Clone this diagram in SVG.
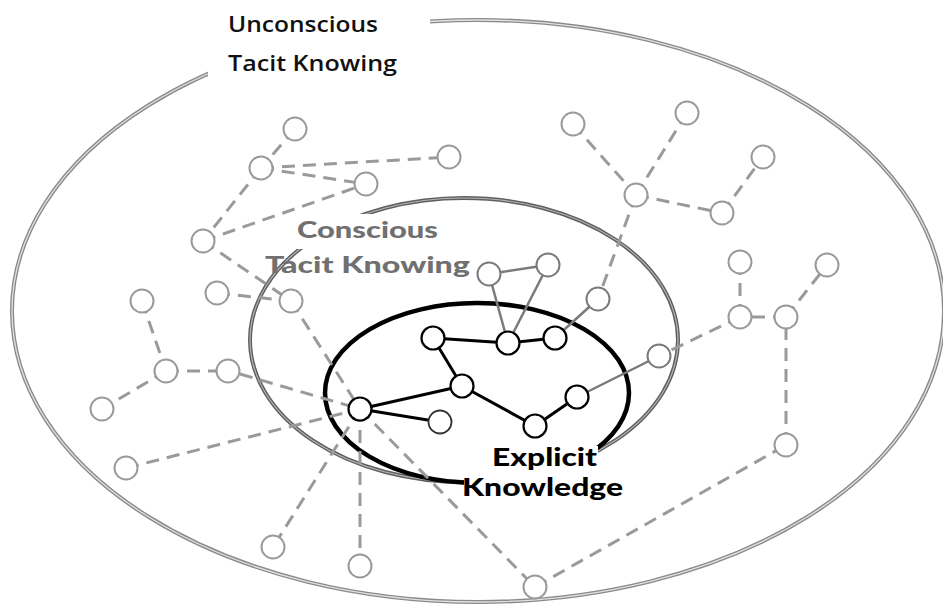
<svg xmlns="http://www.w3.org/2000/svg" width="943" height="605" viewBox="0 0 943 605">
<style>
.dash{stroke:#9a9a9a;stroke-width:3;stroke-dasharray:13 8;fill:none}
.gsolid{stroke:#7a7a7a;stroke-width:2.5;fill:none}
.bsolid{stroke:#000;stroke-width:3;fill:none}
.gn{fill:#fff;stroke:#9a9a9a;stroke-width:2}
.mn{fill:#fff;stroke:#7a7a7a;stroke-width:2}
.bn{fill:#fff;stroke:#000;stroke-width:2.2}
.lbl1{font-family:"Open Sans","Liberation Sans",sans-serif;font-weight:600;font-size:22px;fill:#111}
.lbl2{font-family:Lato,"Liberation Sans",sans-serif;font-weight:900;font-size:23px;fill:#707070}
.lbl3{font-family:Lato,"Liberation Sans",sans-serif;font-weight:900;font-size:25px;fill:#000}
</style>
<rect width="943" height="605" fill="#fff"/>
<g id="outer-region">
<ellipse cx="478" cy="311" rx="466" ry="291" fill="none" stroke="#8a8a8a" stroke-width="4"/>
<ellipse cx="478" cy="311" rx="466" ry="291" fill="none" stroke="#e2e2e2" stroke-width="1.3"/>
</g>
<g id="conscious-region">
<ellipse cx="464" cy="340" rx="214" ry="142" fill="none" stroke="#5f5f5f" stroke-width="4"/>
<ellipse cx="464" cy="340" rx="214" ry="142" fill="none" stroke="#b5b5b5" stroke-width="1.2"/>
</g>
<g id="explicit-region">
<ellipse cx="477" cy="393" rx="152" ry="90" fill="none" stroke="#000" stroke-width="4.5"/>
</g>
<g id="connectors">
<line class="dash" x1="295" y1="129" x2="261" y2="168"/>
<line class="dash" x1="261" y1="168" x2="449" y2="157"/>
<line class="dash" x1="261" y1="168" x2="366" y2="184"/>
<line class="dash" x1="261" y1="168" x2="203" y2="241"/>
<line class="dash" x1="203" y1="241" x2="366" y2="184"/>
<line class="dash" x1="203" y1="241" x2="291" y2="301"/>
<line class="dash" x1="217" y1="293" x2="291" y2="301"/>
<line class="dash" x1="291" y1="301" x2="360" y2="409"/>
<line class="dash" x1="142" y1="301" x2="166" y2="371"/>
<line class="dash" x1="166" y1="371" x2="228" y2="371"/>
<line class="dash" x1="166" y1="371" x2="102" y2="409"/>
<line class="dash" x1="240" y1="374" x2="360" y2="409"/>
<line class="dash" x1="126" y1="468" x2="360" y2="409"/>
<line class="dash" x1="360" y1="409" x2="273" y2="547"/>
<line class="dash" x1="360" y1="409" x2="360" y2="566"/>
<line class="dash" x1="360" y1="409" x2="535" y2="587"/>
<line class="dash" x1="535" y1="587" x2="786" y2="445"/>
<line class="dash" x1="786" y1="445" x2="786" y2="317"/>
<line class="dash" x1="786" y1="317" x2="740" y2="317"/>
<line class="dash" x1="740" y1="317" x2="659" y2="356"/>
<line class="dash" x1="740" y1="262" x2="740" y2="317"/>
<line class="dash" x1="786" y1="317" x2="827" y2="265"/>
<line class="dash" x1="573" y1="124" x2="636" y2="195"/>
<line class="dash" x1="687" y1="113" x2="636" y2="195"/>
<line class="dash" x1="636" y1="195" x2="722" y2="213"/>
<line class="dash" x1="722" y1="213" x2="763" y2="157"/>
<line class="dash" x1="636" y1="195" x2="598" y2="299"/>
<line class="gsolid" x1="489" y1="274" x2="548" y2="265"/>
<line class="gsolid" x1="489" y1="274" x2="508" y2="343"/>
<line class="gsolid" x1="548" y1="265" x2="508" y2="343"/>
<line class="gsolid" x1="598" y1="299" x2="555" y2="338"/>
<line class="gsolid" x1="577" y1="397" x2="659" y2="356"/>
<line class="bsolid" x1="433" y1="338" x2="508" y2="343"/>
<line class="bsolid" x1="508" y1="343" x2="555" y2="338"/>
<line class="bsolid" x1="433" y1="338" x2="462" y2="386"/>
<line class="bsolid" x1="462" y1="386" x2="360" y2="409"/>
<line class="bsolid" x1="360" y1="409" x2="440" y2="422"/>
<line class="bsolid" x1="462" y1="386" x2="535" y2="426"/>
<line class="bsolid" x1="535" y1="426" x2="577" y2="397"/>
</g>
<g id="n-a"><circle class="gn" cx="295" cy="129" r="11.5"/></g>
<g id="n-b"><circle class="gn" cx="261" cy="168" r="11.5"/></g>
<g id="n-c"><circle class="gn" cx="449" cy="157" r="11.5"/></g>
<g id="n-d"><circle class="gn" cx="366" cy="184" r="11.5"/></g>
<g id="n-e"><circle class="gn" cx="203" cy="241" r="11.5"/></g>
<g id="n-f"><circle class="gn" cx="217" cy="293" r="11.5"/></g>
<g id="n-g"><circle class="gn" cx="291" cy="301" r="11.5"/></g>
<g id="n-h"><circle class="gn" cx="142" cy="301" r="11.5"/></g>
<g id="n-i"><circle class="gn" cx="166" cy="371" r="11.5"/></g>
<g id="n-j"><circle class="gn" cx="228" cy="371" r="11.5"/></g>
<g id="n-k"><circle class="gn" cx="102" cy="409" r="11.5"/></g>
<g id="n-l"><circle class="gn" cx="126" cy="468" r="11.5"/></g>
<g id="n-q"><circle class="gn" cx="273" cy="547" r="11.5"/></g>
<g id="n-r"><circle class="gn" cx="360" cy="566" r="11.5"/></g>
<g id="n-s"><circle class="gn" cx="573" cy="124" r="11.5"/></g>
<g id="n-t"><circle class="gn" cx="687" cy="113" r="11.5"/></g>
<g id="n-u"><circle class="gn" cx="636" cy="195" r="11.5"/></g>
<g id="n-v"><circle class="gn" cx="763" cy="157" r="11.5"/></g>
<g id="n-w"><circle class="gn" cx="722" cy="213" r="11.5"/></g>
<g id="n-x"><circle class="gn" cx="740" cy="262" r="11.5"/></g>
<g id="n-y"><circle class="gn" cx="827" cy="265" r="11.5"/></g>
<g id="n-ae"><circle class="gn" cx="740" cy="317" r="11.5"/></g>
<g id="n-af"><circle class="gn" cx="786" cy="317" r="11.5"/></g>
<g id="n-aj"><circle class="gn" cx="786" cy="445" r="11.5"/></g>
<g id="n-ak"><circle class="gn" cx="535" cy="587" r="11.5"/></g>
<g id="n-aa"><circle class="mn" cx="489" cy="274" r="11.5"/></g>
<g id="n-z"><circle class="mn" cx="548" cy="265" r="11.5"/></g>
<g id="n-ab"><circle class="mn" cx="598" cy="299" r="11.5"/></g>
<g id="n-ag"><circle class="mn" cx="659" cy="356" r="11.5"/></g>
<g id="n-o"><circle class="bn" cx="433" cy="338" r="11.5"/></g>
<g id="n-p"><circle class="bn" cx="462" cy="386" r="11.5"/></g>
<g id="n-m"><circle class="bn" cx="360" cy="409" r="11.5"/></g>
<g id="n-n"><circle class="bn" cx="440" cy="422" r="11.5" style="stroke:#333;stroke-width:1.8"/></g>
<g id="n-ac"><circle class="bn" cx="508" cy="343" r="11.5"/></g>
<g id="n-ad"><circle class="bn" cx="555" cy="338" r="11.5"/></g>
<g id="n-ah"><circle class="bn" cx="577" cy="397" r="11.5"/></g>
<g id="n-ai"><circle class="bn" cx="535" cy="426" r="11.5"/></g>
<g id="label-unconscious">
<rect x="208" y="0" width="222" height="80" fill="#fff"/>
<text class="lbl1" x="228" y="32" textLength="150" lengthAdjust="spacingAndGlyphs">Unconscious</text>
<text class="lbl1" x="228" y="71" textLength="169" lengthAdjust="spacingAndGlyphs">Tacit Knowing</text>
</g>
<g id="label-conscious">
<rect x="292" y="214" width="150" height="35" fill="#fff"/>
<text class="lbl2" x="297" y="238" textLength="141" lengthAdjust="spacingAndGlyphs">Conscious</text>
<text class="lbl2" x="265" y="273" textLength="205" lengthAdjust="spacingAndGlyphs">Tacit Knowing</text>
</g>
<g id="label-explicit">
<path d="M488 446 H598 V472 H626 V508 H464 V472 H488 Z" fill="#fff"/>
<text class="lbl3" x="492" y="466" textLength="105" lengthAdjust="spacingAndGlyphs">Explicit</text>
<text class="lbl3" x="462" y="496" textLength="161" lengthAdjust="spacingAndGlyphs">Knowledge</text>
</g>
</svg>
